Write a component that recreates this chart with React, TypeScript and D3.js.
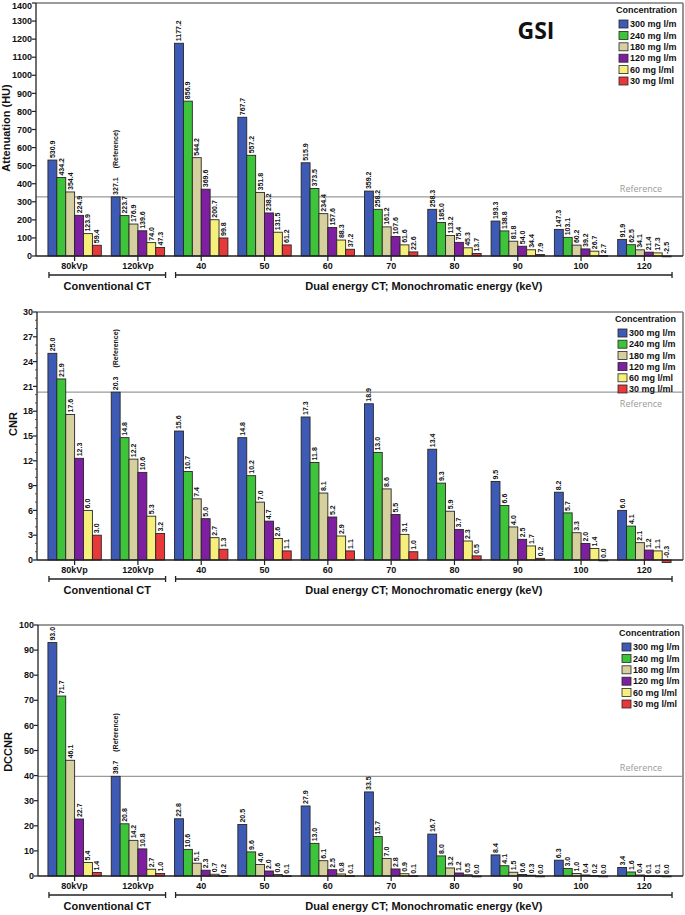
import React from 'react';
import * as d3 from 'd3';

const categories = ['80kVp', '120kVp', '40', '50', '60', '70', '80', '90', '100', '120'];
const seriesNames = ['300 mg l/m', '240 mg l/m', '180 mg l/m', '120 mg l/m', '60 mg l/ml', '30 mg l/ml'];
const seriesColors = ['#3d5bb5', '#3ec43a', '#d6cf9e', '#7d1fa0', '#f7ef7c', '#e8383a'];

const attenuation = [
  [530.9, 434.2, 354.4, 224.9, 123.9, 59.4],
  [327.1, 223.7, 176.9, 139.6, 74.0, 47.3],
  [1177.2, 856.9, 544.2, 369.6, 200.7, 99.8],
  [767.7, 557.2, 351.8, 238.2, 131.5, 61.2],
  [515.9, 373.5, 234.4, 157.6, 88.3, 37.2],
  [359.2, 258.2, 161.2, 107.6, 61.6, 22.6],
  [258.3, 185.0, 113.2, 75.4, 45.3, 13.7],
  [193.3, 138.8, 81.8, 54.0, 34.4, 7.9],
  [147.3, 103.1, 60.2, 39.2, 26.7, 2.7],
  [91.9, 62.5, 34.1, 21.4, 17.3, -2.5],
];

const cnr = [
  [25.0, 21.9, 17.6, 12.3, 6.0, 3.0],
  [20.3, 14.8, 12.2, 10.6, 5.3, 3.2],
  [15.6, 10.7, 7.4, 5.0, 2.7, 1.3],
  [14.8, 10.2, 7.0, 4.7, 2.6, 1.1],
  [17.3, 11.8, 8.1, 5.2, 2.9, 1.1],
  [18.9, 13.0, 8.6, 5.5, 3.1, 1.0],
  [13.4, 9.3, 5.9, 3.7, 2.3, 0.5],
  [9.5, 6.6, 4.0, 2.5, 1.7, 0.2],
  [8.2, 5.7, 3.3, 2.0, 1.4, 0.0],
  [6.0, 4.1, 2.1, 1.2, 1.1, -0.3],
];

const dccnr = [
  [93.0, 71.7, 46.1, 22.7, 5.4, 1.4],
  [39.7, 20.8, 14.2, 10.8, 2.7, 1.0],
  [22.8, 10.6, 5.1, 2.3, 0.7, 0.2],
  [20.5, 9.6, 4.6, 2.0, 0.6, 0.1],
  [27.9, 13.0, 6.1, 2.5, 0.8, 0.1],
  [33.5, 15.7, 7.0, 2.8, 0.9, 0.1],
  [16.7, 8.0, 3.2, 1.2, 0.5, 0.0],
  [8.4, 4.1, 1.5, 0.6, 0.3, 0.0],
  [6.3, 3.0, 1.0, 0.4, 0.2, 0.0],
  [3.4, 1.6, 0.4, 0.1, 0.1, 0.0],
];

const attTicks = d3.range(0, 1401, 100);
const cnrTicks = d3.range(0, 31, 3);
const dccnrTicks = d3.range(0, 101, 10);

const groupLabels = [
  { label: 'Conventional CT', from: 0, to: 1 },
  { label: 'Dual energy CT; Monochromatic energy (keV)', from: 2, to: 9 },
];

const REF_INDEX = 1; // 120kVp reference group
const FONT = 'Liberation Sans, Arial, sans-serif';
const LEFT = 36;
const RIGHT = 683;

const x0 = d3.scaleBand<string>().domain(categories).range([LEFT, RIGHT]).paddingInner(0).paddingOuter(0.11);
const groupW = x0.bandwidth() * 0.843;
const x1 = d3.scaleBand<string>().domain(seriesNames).range([0, groupW]).padding(0);

type PanelProps = {
  data: number[][];
  ticks: number[];
  yMax: number;
  minorStep?: number;
  top: number;
  bottom: number;
  axisX: number;
  yLabel: string;
  yLabelX: number;
  yLabelY: number;
  refLabelDy: number;
  legendX: number;
  legendY: number;
  legendStep: number;
  title?: string;
};

function Panel(p: PanelProps) {
  const y = d3.scaleLinear().domain([0, p.yMax]).range([p.bottom, p.top]);
  const refVal = p.data[REF_INDEX][0];
  const minor = p.minorStep ? d3.range(0, p.yMax + 1e-9, p.minorStep).filter((v) => !p.ticks.some((t) => Math.abs(t - v) < 1e-9)) : [];
  return (
    <g>
      {/* frame top and right */}
      <line x1={p.axisX} x2={RIGHT} y1={p.top} y2={p.top} stroke="#7a7a7a" strokeWidth={1.6} />
      <line x1={RIGHT} x2={RIGHT} y1={p.top} y2={p.bottom} stroke="#7a7a7a" strokeWidth={1.6} />
      {/* reference line */}
      <line x1={p.axisX} x2={RIGHT} y1={y(refVal)} y2={y(refVal)} stroke="#9a9a9a" strokeWidth={1.2} />
      <text x={641} y={y(refVal) + p.refLabelDy} textAnchor="middle" fontFamily="Open Sans, sans-serif" fontSize={9} fill="#9a9a9a">Reference</text>
      {/* bars */}
      {p.data.map((row, gi) => {
        const gx = (x0(categories[gi]) as number) + (x0.bandwidth() - groupW) / 2;
        return (
          <g key={gi}>
            {row.map((v, si) => {
              const bx = gx + (x1(seriesNames[si]) as number);
              const bw = x1.bandwidth();
              const yTop = y(Math.max(v, 0));
              const yBot = y(Math.min(v, 0));
              const cx = bx + bw / 2;
              const ly = yTop - 2;
              return (
                <g key={si}>
                  <rect x={bx} y={yTop} width={bw} height={Math.max(yBot - yTop, 0.8)} fill={seriesColors[si]} stroke="#262626" strokeWidth={0.9} />
                  <text transform={`translate(${cx + 2.5},${ly}) rotate(-90)`} fontFamily={FONT} fontWeight="bold" fontSize={7} fill="#111">
                    {v.toFixed(1)}
                    {gi === REF_INDEX && si === 0 ? <tspan dx={9}>(Reference)</tspan> : null}
                  </text>
                </g>
              );
            })}
          </g>
        );
      })}
      {/* y axis */}
      <line x1={p.axisX} x2={p.axisX} y1={p.top} y2={p.bottom} stroke="#222" strokeWidth={1.3} />
      {p.ticks.map((t) => (
        <g key={t}>
          <line x1={p.axisX - 4} x2={p.axisX} y1={y(t)} y2={y(t)} stroke="#222" strokeWidth={1.2} />
          <text x={p.axisX - 4} y={Math.max(y(t), 5.5)} dy="0.35em" textAnchor="end" fontFamily={FONT} fontWeight="bold" fontSize={9} fill="#111">{t}</text>
        </g>
      ))}
      {minor.map((t) => (
        <line key={'m' + t} x1={p.axisX - 2} x2={p.axisX} y1={y(t)} y2={y(t)} stroke="#444" strokeWidth={0.9} />
      ))}
      {/* x axis */}
      <line x1={p.axisX} x2={RIGHT} y1={p.bottom} y2={p.bottom} stroke="#222" strokeWidth={1.4} />
      {categories.map((c) => {
        const cx = (x0(c) as number) + x0.bandwidth() / 2;
        return (
          <g key={c}>
            <line x1={cx} x2={cx} y1={p.bottom} y2={p.bottom + 5} stroke="#222" strokeWidth={1.2} />
            <text x={cx} y={p.bottom + 13} textAnchor="middle" fontFamily={FONT} fontWeight="bold" fontSize={9} fill="#111">{c}</text>
          </g>
        );
      })}
      {/* group brackets */}
      {groupLabels.map((g) => {
        const xa = (x0(categories[g.from]) as number) + 6;
        const xb = (x0(categories[g.to]) as number) + x0.bandwidth() - 4;
        const by = p.bottom + 19;
        return (
          <g key={g.label}>
            <line x1={xa} x2={xb} y1={by} y2={by} stroke="#222" strokeWidth={1.3} />
            <line x1={xa} x2={xa} y1={by - 3} y2={by + 3} stroke="#222" strokeWidth={1.3} />
            <line x1={xb} x2={xb} y1={by - 3} y2={by + 3} stroke="#222" strokeWidth={1.3} />
            <text x={(xa + xb) / 2} y={p.bottom + 34} textAnchor="middle" fontFamily={FONT} fontWeight="bold" fontSize={11} fill="#111">{g.label}</text>
          </g>
        );
      })}
      {/* y label */}
      <text transform={`translate(${p.yLabelX},${p.yLabelY}) rotate(-90)`} textAnchor="middle" fontFamily={FONT} fontWeight="bold" fontSize={11} fill="#111">{p.yLabel}</text>
      {/* title */}
      {p.title ? (
        <text x={536} y={39} textAnchor="middle" fontFamily="Open Sans, sans-serif" fontWeight="bold" fontSize={23} fill="#111">{p.title}</text>
      ) : null}
      {/* legend */}
      <text x={p.legendX - 3} y={p.legendY} fontFamily={FONT} fontWeight="bold" fontSize={9} fill="#111">Concentration</text>
      {seriesNames.map((s, i) => {
        const ry = p.legendY + 11 + i * p.legendStep;
        return (
          <g key={s}>
            <rect x={p.legendX} y={ry - 4} width={9} height={8} fill={seriesColors[i]} stroke="#262626" strokeWidth={0.8} />
            <text x={p.legendX + 11} y={ry} dy="0.35em" fontFamily={FONT} fontWeight="bold" fontSize={9} fill="#111">{s}</text>
          </g>
        );
      })}
    </g>
  );
}

export default function App() {
  return (
    <div style={{ position: 'absolute', left: 0, top: 0 }}>
      <svg width={685} height={915} style={{ display: 'block', background: '#fff' }}>
        <Panel data={attenuation} ticks={attTicks} yMax={1400} top={3} bottom={256} axisX={36}
          yLabel="Attenuation (HU)" yLabelX={10} yLabelY={128} refLabelDy={-5}
          legendX={619} legendY={13} legendStep={11.4} title="GSI" />
        <Panel data={cnr} ticks={cnrTicks} yMax={30} minorStep={1} top={312} bottom={560} axisX={37}
          yLabel="CNR" yLabelX={17} yLabelY={424} refLabelDy={15}
          legendX={618} legendY={322} legendStep={11.2} />
        <Panel data={dccnr} ticks={dccnrTicks} yMax={100} top={625} bottom={876} axisX={38}
          yLabel="DCCNR" yLabelX={12} yLabelY={752} refLabelDy={-5}
          legendX={622} legendY={636} legendStep={11.4} />
      </svg>
    </div>
  );
}
